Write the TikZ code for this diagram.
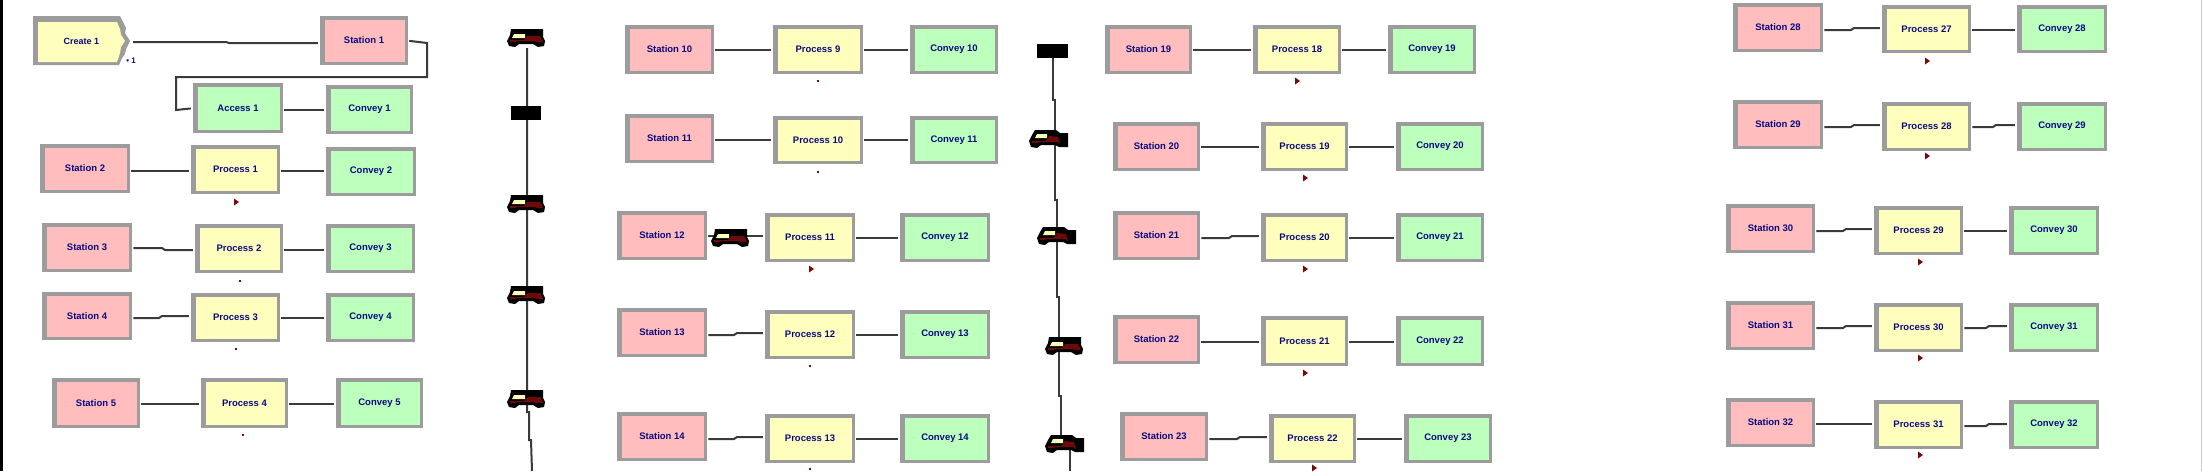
\documentclass[tikz,border=0pt]{standalone}
\usepackage{fontspec}
\setmainfont{Liberation Sans}
\usetikzlibrary{calc}
\definecolor{navy}{HTML}{0A0A80}
\definecolor{edgegray}{HTML}{9C9C9C}
\definecolor{pinkfill}{HTML}{FFBDBD}
\definecolor{yelfill}{HTML}{FFFFBD}
\definecolor{grnfill}{HTML}{BDFFBD}
\definecolor{truckred}{HTML}{6E0A0A}
\definecolor{linegray}{HTML}{3A3A3A}
\tikzset{
  x=1pt,y=-1pt,
  modbox/.style={rectangle,draw=edgegray,line width=3.5pt,text=navy,font=\bfseries\fontsize{9.5}{12}\selectfont,inner sep=0pt,outer sep=0pt},
  stbox/.style={modbox,fill=pinkfill},
  prbox/.style={modbox,fill=yelfill},
  cobox/.style={modbox,fill=grnfill},
  conn/.style={draw=linegray,line width=2pt,shorten <=3pt,shorten >=4pt},
  rail/.style={draw=linegray,line width=2pt},
  pics/truck/.style={code={
    \fill[black] (4,0) -- (36,0) -- (36,8) -- (38,12) -- (37,17) -- (31,18) -- (26,15) -- (12,15) -- (8,18) -- (2,17) -- (0,12) -- (3,6) -- cycle;
    \fill[truckred] (3,11) -- (17,11) -- (20,7) -- (33,7) -- (36,13) -- (30,13) -- (28,12) -- (10,12) -- (8,13) -- (3,13) -- cycle;
    \fill[yelfill] (5,9) -- (7,5) -- (18,5) -- (18,9) -- cycle;
  }},
  pics/van/.style={code={
    \fill[black] (6,0) -- (27,0) -- (31,3) -- (39,3) -- (39,17) -- (30,17) -- (26,15) -- (12,15) -- (8,18) -- (2,17) -- (0,11) -- (3,5) -- cycle;
    \fill[truckred] (3,11) -- (17,11) -- (20,6) -- (29,7) -- (31,14) -- (28,12) -- (10,12) -- (8,13) -- (3,13) -- cycle;
    \fill[yelfill] (6,8) -- (8,4) -- (18,4) -- (18,8) -- cycle;
  }},
  pics/mark/.style={code={\fill[truckred!90!red] (-2,-3.5) -- (3,0) -- (-2,3.5) -- cycle;}},
  pics/dot/.style={code={\fill[truckred!90!red] (-1,-1) rectangle (1,1);}},
}
\newcommand{\modnode}[7]{%
  \pgfmathsetmacro{\cxv}{(#3+#5)/2}\pgfmathsetmacro{\cyv}{(#4+#6)/2}%
  \pgfmathsetmacro{\wv}{#5-#3-3.5}\pgfmathsetmacro{\hv}{#6-#4-3.5}%
  \node[#2,minimum width=\wv pt,minimum height=\hv pt] (#1) at (\cxv,\cyv) {#7};
  \fill[edgegray] (#3,#4) rectangle ($(#3,#6)+(5,0)$);
}
\newcommand{\lnk}[3]{\draw[conn] (#1.east |- 0,#3) -- (#2.west |- 0,#3);}
\newcommand{\bend}[5]{\draw[conn] (#1.east |- 0,#3) -- (#4,#3) -- ($(#4,#5)+(3,0)$) -- (#2.west |- 0,#5);}
\begin{document}
\begin{tikzpicture}
\useasboundingbox (0,0) rectangle (2202,471);
\fill[white] (0,0) rectangle (2202,471);
\fill[black] (0,0) rectangle (3,471);
\fill[gray!40] (2200.5,0) rectangle (2202,471);
% rails
\coordinate (r1a) at (527,48);\coordinate (r1b) at (527,412);\coordinate (r1c) at (529,412);\coordinate (r1d) at (529,440);\coordinate (r1e) at (531,440);\coordinate (r1f) at (532,471);
\draw[rail] (r1a) -- (r1b) -- (r1c) -- (r1d) -- (r1e) -- (r1f);
\coordinate (r2a) at (1053,58);\coordinate (r2b) at (1053,100);\coordinate (r2c) at (1055,100);\coordinate (r2d) at (1055,200);\coordinate (r2e) at (1057,200);\coordinate (r2f) at (1057,297);\coordinate (r2g) at (1059,297);\coordinate (r2h) at (1059,396);\coordinate (r2i) at (1061,396);\coordinate (r2j) at (1061,445);\coordinate (r2k) at (1070,445);\coordinate (r2l) at (1070,471);
\draw[rail] (r2a) -- (r2b) -- (r2c) -- (r2d) -- (r2e) -- (r2f) -- (r2g) -- (r2h) -- (r2i) -- (r2j) -- (r2k) -- (r2l);
% create
\fill[edgegray] (33,16) -- (120,16) -- (123,22) -- (126,28) -- (125,33) -- (130,41) -- (126,49) -- (125,54) -- (122,58) -- (119,65) -- (33,65) -- cycle;
\fill[yelfill] (38,22) -- (117,22) -- (120,29) -- (121,35) -- (125,41) -- (121,47) -- (120,53) -- (117,62) -- (38,62) -- cycle;
\node[rectangle,inner sep=0pt,outer sep=0pt,minimum width=97pt,minimum height=49pt,text=navy,font=\bfseries\fontsize{9}{11}\selectfont] (create1) at (81.5,41) {Create 1};
\node[text=navy,font=\bfseries\fontsize{8}{10}\selectfont,inner sep=0pt] (count1) at (131,61) {• 1};
% column 1
\modnode{st1}{stbox}{320}{16}{408}{65}{Station 1}
\modnode{ac1}{cobox}{193}{83}{283}{133}{Access 1}
\modnode{co1}{cobox}{326}{85}{413}{134}{Convey 1}
\modnode{st2}{stbox}{40}{144}{130}{193}{Station 2}
\modnode{pr1}{prbox}{191}{145}{280}{194}{Process 1}
\modnode{co2}{cobox}{326}{147}{416}{196}{Convey 2}
\modnode{st3}{stbox}{42}{223}{132}{272}{Station 3}
\modnode{pr2}{prbox}{195}{224}{283}{273}{Process 2}
\modnode{co3}{cobox}{326}{224}{415}{273}{Convey 3}
\modnode{st4}{stbox}{42}{292}{132}{340}{Station 4}
\modnode{pr3}{prbox}{191}{293}{280}{342}{Process 3}
\modnode{co4}{cobox}{326}{293}{415}{342}{Convey 4}
\modnode{st5}{stbox}{52}{378}{140}{428}{Station 5}
\modnode{pr4}{prbox}{201}{378}{288}{428}{Process 4}
\modnode{co5}{cobox}{336}{378}{423}{428}{Convey 5}
\bend{create1}{st1}{42}{226}{43}
\draw[conn] (st1.east) -- (427,43) -- (427,77) -- (176,77) -- (176,110) -- (ac1.west);
\lnk{ac1}{co1}{110}
\lnk{st2}{pr1}{171}\lnk{pr1}{co2}{171}
\bend{st3}{pr2}{248}{162}{250}\lnk{pr2}{co3}{250}
\bend{st4}{pr3}{318}{159}{316}\lnk{pr3}{co4}{318}
\lnk{st5}{pr4}{404}\lnk{pr4}{co5}{404}
% column 2
\modnode{st10}{stbox}{625}{25}{714}{74}{Station 10}
\modnode{pr9}{prbox}{773}{25}{863}{74}{Process 9}
\modnode{co10}{cobox}{910}{25}{998}{74}{Convey 10}
\modnode{st11}{stbox}{625}{114}{714}{163}{Station 11}
\modnode{pr10}{prbox}{773}{116}{863}{164}{Process 10}
\modnode{co11}{cobox}{910}{116}{998}{164}{Convey 11}
\modnode{st12}{stbox}{617}{211}{707}{260}{Station 12}
\modnode{pr11}{prbox}{765}{213}{855}{262}{Process 11}
\modnode{co12}{cobox}{900}{213}{990}{262}{Convey 12}
\modnode{st13}{stbox}{617}{308}{707}{357}{Station 13}
\modnode{pr12}{prbox}{765}{310}{855}{359}{Process 12}
\modnode{co13}{cobox}{900}{310}{990}{359}{Convey 13}
\modnode{st14}{stbox}{617}{412}{707}{461}{Station 14}
\modnode{pr13}{prbox}{765}{414}{855}{463}{Process 13}
\modnode{co14}{cobox}{900}{414}{990}{463}{Convey 14}
\lnk{st10}{pr9}{50}\lnk{pr9}{co10}{50}
\lnk{st11}{pr10}{140}\lnk{pr10}{co11}{140}
\lnk{st12}{pr11}{236}\lnk{pr11}{co12}{238}
\bend{st13}{pr12}{335}{734}{333}\lnk{pr12}{co13}{335}
\bend{st14}{pr13}{439}{734}{437}\lnk{pr13}{co14}{439}
% column 3
\modnode{st19}{stbox}{1105}{25}{1192}{74}{Station 19}
\modnode{pr18}{prbox}{1253}{25}{1341}{74}{Process 18}
\modnode{co19}{cobox}{1388}{25}{1476}{74}{Convey 19}
\modnode{st20}{stbox}{1113}{122}{1200}{171}{Station 20}
\modnode{pr19}{prbox}{1261}{122}{1348}{171}{Process 19}
\modnode{co20}{cobox}{1396}{122}{1484}{171}{Convey 20}
\modnode{st21}{stbox}{1113}{211}{1200}{260}{Station 21}
\modnode{pr20}{prbox}{1261}{213}{1348}{262}{Process 20}
\modnode{co21}{cobox}{1396}{213}{1484}{262}{Convey 21}
\modnode{st22}{stbox}{1113}{315}{1200}{364}{Station 22}
\modnode{pr21}{prbox}{1261}{316}{1348}{366}{Process 21}
\modnode{co22}{cobox}{1396}{316}{1484}{366}{Convey 22}
\modnode{st23}{stbox}{1120}{412}{1208}{461}{Station 23}
\modnode{pr22}{prbox}{1269}{414}{1356}{463}{Process 22}
\modnode{co23}{cobox}{1404}{414}{1492}{463}{Convey 23}
\lnk{st19}{pr18}{50}\lnk{pr18}{co19}{50}
\lnk{st20}{pr19}{147}\lnk{pr19}{co20}{147}
\bend{st21}{pr20}{238}{1229}{236}\lnk{pr20}{co21}{238}
\lnk{st22}{pr21}{342}\lnk{pr21}{co22}{342}
\bend{st23}{pr22}{439}{1237}{437}\lnk{pr22}{co23}{439}
% column 4
\modnode{st28}{stbox}{1733}{3}{1823}{52}{Station 28}
\modnode{pr27}{prbox}{1882}{5}{1971}{53}{Process 27}
\modnode{co28}{cobox}{2017}{5}{2107}{53}{Convey 28}
\modnode{st29}{stbox}{1733}{100}{1823}{149}{Station 29}
\modnode{pr28}{prbox}{1882}{102}{1971}{151}{Process 28}
\modnode{co29}{cobox}{2017}{102}{2107}{151}{Convey 29}
\modnode{st30}{stbox}{1726}{204}{1815}{253}{Station 30}
\modnode{pr29}{prbox}{1874}{206}{1963}{255}{Process 29}
\modnode{co30}{cobox}{2009}{206}{2099}{255}{Convey 30}
\modnode{st31}{stbox}{1726}{301}{1815}{350}{Station 31}
\modnode{pr30}{prbox}{1874}{303}{1963}{352}{Process 30}
\modnode{co31}{cobox}{2009}{303}{2099}{352}{Convey 31}
\modnode{st32}{stbox}{1726}{398}{1815}{447}{Station 32}
\modnode{pr31}{prbox}{1874}{400}{1963}{449}{Process 31}
\modnode{co32}{cobox}{2009}{400}{2099}{449}{Convey 32}
\bend{st28}{pr27}{30}{1851}{28}\lnk{pr27}{co28}{30}
\bend{st29}{pr28}{127}{1851}{125}\bend{pr28}{co29}{127}{1993}{125}
\bend{st30}{pr29}{231}{1843}{229}\lnk{pr29}{co30}{231}
\bend{st31}{pr30}{328}{1843}{326}\bend{pr30}{co31}{328}{1986}{326}
\lnk{st32}{pr31}{424}\bend{pr31}{co32}{426}{1986}{424}
% black blocks
\fill[black] (511,106) rectangle (541,120);
\fill[black] (1037,44) rectangle (1068,58);
% trucks
\pic at (507,29) {truck};
\pic at (507,195) {truck};
\pic at (507,286) {truck};
\pic at (507,390) {truck};
\pic at (711,229) {truck};
\pic at (1029,130) {van};
\pic at (1037,227) {van};
\pic at (1045,337) {truck};
\pic at (1045,435) {van};
% markers
\pic at (236,202) {mark};
\pic at (240,281) {dot};
\pic at (236,349) {dot};
\pic at (243,435) {dot};
\pic at (818,81) {dot};
\pic at (818,172) {dot};
\pic at (811,269) {mark};
\pic at (810,366) {dot};
\pic at (810,469) {dot};
\pic at (1297,81) {mark};
\pic at (1305,178) {mark};
\pic at (1305,269) {mark};
\pic at (1305,373) {mark};
\pic at (1314,468) {mark};
\pic at (1927,61) {mark};
\pic at (1927,156) {mark};
\pic at (1920,262) {mark};
\pic at (1920,358) {mark};
\pic at (1920,455) {mark};
\end{tikzpicture}
\end{document}
